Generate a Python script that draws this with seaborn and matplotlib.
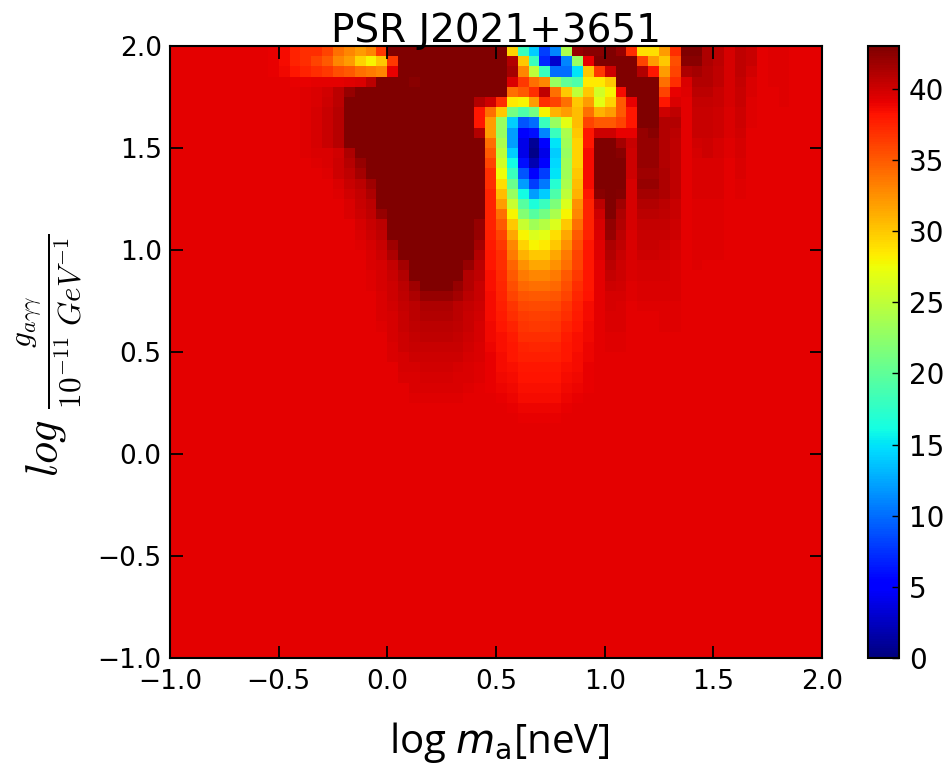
import numpy as np
import pandas as pd
import matplotlib
matplotlib.use("Agg")
import matplotlib.pyplot as plt
import seaborn as sns

# Chart values: each row maps a first column to the cell values read from there on
background = 39.2
n_cells = 60

row_00 = {9: [39, 38.5, 37.5, 37, 37, 36, 34, 33, 32, 33, 36.5], 20: [43] * 11,
          31: [29.5, 18, 14, 8, 11, 24, 42, 42.5, 42.5, 43, 42, 37, 29, 29, 32, 37, 43, 43],
          49: [41.3, 40.7, 39.8, 40.5, 40.2, 39.2, 39.4, 39.4]}
row_01 = {9: [39, 38.5, 37.5, 37, 36, 35, 33, 32, 29.5, 28, 30, 36.5], 21: [43] * 10,
          31: [41, 30, 18, 7, 3, 11, 23, 39, 43, 43, 43, 43, 36, 32, 30, 35.5, 42.5, 42.5],
          49: [41.3, 40.7, 39.8, 40.5, 40.2, 39.2, 39.4, 39.4]}
row_02 = {9: [39, 38.7, 38, 37.5, 37, 36.5, 35.5, 35, 34, 33.5, 33, 39], 21: [43] * 10,
          31: [41.5, 33, 25, 18, 10, 10, 15, 30, 36.5, 40, 43, 43, 41, 38, 32, 36, 41.3, 41.5],
          49: [41, 40.6, 39.8, 40.5, 39.9, 39.2, 39.4, 39.4]}
row_03 = {9: [39.2, 39.2, 39.1, 39.1, 39.2, 39.2, 39.2, 39.4, 39.6, 40.8], 19: [43, 43, 43, 42.5] + [43] * 8,
          31: [39.5, 36.5, 34, 33, 23, 20, 19, 28.5, 28.5, 30, 43, 43, 43, 43, 34, 37, 39.6, 41.1],
          49: [41, 40.5, 39.8, 40.4, 39.5, 39.2, 39.4, 39.4]}
row_04 = {12: [39.4, 39.6, 39.9, 40.7, 42], 17: [43] * 14,
          31: [34, 35, 37, 40.5, 34, 30, 25, 30, 26, 28, 38.5, 43, 43, 43, 36, 39, 39.4, 40.8],
          49: [40.7, 40.3, 39.7, 40.3, 39.5, 39.2, 39.3, 39.4]}
row_05 = {12: [39.4, 39.6, 40, 40.7], 16: [43] * 12,
          28: [41, 40, 37, 28.5, 28, 32, 37, 36, 34, 30, 32, 27, 29.5, 35, 39, 43, 43, 38, 39.5, 39.3, 40.4],
          49: [40.4, 40.2, 39.7, 40.2, 39.4, 39.2, 39.3, 39.4]}
row_06 = {12: [39.4, 39.7, 40.2, 40.9], 16: [43] * 12,
          28: [38, 34, 30, 21, 19, 21, 28, 31, 32, 30.5, 34, 31, 32, 35, 38, 43, 43, 40, 40.5, 39.3, 40.2],
          49: [40.2, 40.1, 39.6, 40, 39.4]}
row_07 = {12: [39.4, 39.7, 40.2, 40.9], 16: [43] * 12,
          28: [38, 32, 23, 14, 9, 10, 18, 23, 27, 30.5, 36, 35, 35, 36, 38, 43, 43, 41, 41, 39.3, 40.2],
          49: [40.2, 40.1, 39.6, 40, 39.4]}
row_08 = {12: [39.4, 39.7, 40.2, 40.9], 16: [43] * 12,
          28: [41, 32, 23, 12, 5, 6, 11, 18, 24, 30, 38, 40, 40, 39, 39, 42, 42.5, 41, 40.7, 39.3, 40.2],
          49: [40.2, 40.1, 39.5, 39.9, 39.3]}
row_09 = {12: [39.4, 39.7, 40.2, 40.9], 16: [43] * 12,
          28: [43, 34, 24, 12, 4, 1, 5.5, 15, 23.5, 29.5, 38, 43, 43, 41.5, 40.2, 42, 42, 41, 40.5, 39.3, 39.9],
          49: [40, 39.8, 39.4, 39.8]}
row_10 = {12: [39.4, 39.5, 39.5, 39.9, 41.3], 17: [43] * 12,
          29: [35, 25, 14, 4, 0.5, 4, 14, 23, 29.5, 38.5, 43, 43, 42.5, 40, 42, 42, 41, 40.5, 39.3, 39.8],
          49: [40, 39.8, 39.4, 39.8]}
row_11 = {13: [39.4, 39.5, 40.1, 40.9, 42], 18: [43] * 11,
          29: [36, 26, 16, 6, 2, 5, 14.5, 23.5, 29.5, 38.5, 43, 43, 43, 40, 42, 42, 41, 40.5, 39.3, 39.6],
          49: [39.6, 39.6, 39.3, 39.5]}
row_12 = {14: [39.4, 40, 40.6, 41.5], 18: [43] * 11,
          29: [37, 27.5, 18, 9, 5, 8, 15, 23.5, 30, 38.5, 43, 43, 43, 40, 41.8, 41.8, 41.2, 40.5, 39.3, 39.6],
          49: [39.6, 39.6, 39.3, 39.5]}
row_13 = {14: [39.3, 39.6, 40.2, 40.7, 41.8], 19: [43] * 10,
          29: [37, 29, 20.5, 12, 8, 10.5, 17, 24, 30.5, 38.5, 43, 43, 43, 39.8, 42, 42, 41.3, 40.5, 39.3, 39.6],
          49: [39.6, 39.6, 39.3, 39.4]}
row_14 = {14: [39.3, 39.4, 39.9, 40.4, 41.2], 19: [43] * 10,
          29: [37.5, 30.5, 23, 16, 12, 14, 19, 25, 31, 38, 42.5, 43, 42.8, 39.8, 41.5, 41.5, 41.3, 40.5, 39.3, 39.6],
          49: [39.6, 39.6, 39.3, 39.4]}
row_15 = {15: [39.3, 39.6, 40.2, 40.8], 19: [43] * 10,
          29: [37.5, 32, 25.5, 19.5, 16.5, 18, 21.5, 26.5, 32.5, 37.5, 40.8, 43, 41.8, 39.8, 41, 41, 40.8, 40.3, 39.3, 39.4],
          49: [39.4, 39.4, 39.2, 39.3]}
row_16 = {16: [39.5, 40, 40.5, 42], 20: [43] * 9,
          29: [37.5, 34, 28, 22, 19.5, 21, 24, 28, 33, 37.5, 40, 43, 41.3, 39.7, 40.7, 40.7, 40.6, 40.2, 39.3, 39.4],
          49: [39.4, 39.4]}
row_17 = {16: [39.3, 39.7, 40.2, 40.8], 20: [43] * 8 + [42],
          29: [37.6, 35, 30, 25.5, 23.5, 24.5, 26.5, 30, 34, 37.5, 39.7, 42.3, 41, 39.7, 40.4, 40.4, 40.4, 40.1, 39.3, 39.4],
          49: [39.4, 39.4]}
row_18 = {16: [39.3, 39.5, 40, 40.5], 20: [43] * 8 + [42],
          29: [37.7, 36, 31.5, 28, 26.5, 27, 29, 31.5, 35, 37.5, 39.5, 42, 40.8, 39.6, 40.3, 40.3, 40.2, 40, 39.3, 39.4],
          49: [39.4, 39.4]}
row_19 = {17: [39.4, 39.7, 40.2, 41.8], 21: [43] * 7 + [41.5],
          29: [37.8, 36.5, 33, 29.5, 28, 28.5, 30, 32.5, 35.5, 38, 39.4, 41.3, 40.5, 39.6, 40.2, 40.2, 40, 39.8, 39.3, 39.4],
          49: [39.4, 39.4]}
row_20 = {17: [39.3, 39.6, 40, 41.3], 21: [43] * 7 + [41],
          29: [38, 37, 33.5, 31, 30, 30, 31.5, 33.5, 36, 38, 39.4, 41, 40.3, 39.6, 40, 40, 39.9, 39.7, 39.3, 39.4],
          49: [39.4, 39.4]}
row_21 = {18: [39.5, 39.8, 40.4, 41.5], 22: [43] * 5 + [42, 40.8],
          29: [38.1, 37, 34.5, 32.5, 31.5, 31.5, 32.5, 34, 36, 38, 39.3, 40.8, 40.1, 39.5, 39.8, 39.8, 39.7, 39.6, 39.3, 39.4],
          49: [39.3, 39.3]}
row_22 = {18: [39.4, 39.8, 40.3, 41], 22: [43] * 5 + [41, 40.5],
          29: [38.3, 37.2, 35, 33.5, 33, 33, 33.5, 35, 36.5, 38, 39.3, 40.4, 40, 39.5, 39.7, 39.7, 39.7, 39.5, 39.3, 39.3],
          49: [39.3, 39.3]}
row_23 = {18: [39.4, 39.7, 40.1, 40.7, 41.8, 43, 43, 43, 42, 41, 40.3],
          29: [38.4, 37.4, 35.5, 34.3, 34, 34, 34.3, 35.5, 37, 38, 39.3, 40, 39.9, 39.4, 39.6, 39.6, 39.6, 39.5, 39.3, 39.3],
          49: [39.3, 39.3]}
row_24 = {19: [39.6, 40, 40.5, 41.2, 42, 42, 42, 41.5, 40.8, 40.2],
          29: [38.5, 37.5, 36, 35.2, 35, 35, 35.2, 36, 37.4, 38.2, 39.2, 39.8, 39.7, 39.4, 39.5, 39.5, 39.5, 39.5, 39.2, 39.3]}
row_25 = {19: [39.6, 39.9, 40.4, 40.8, 41.3, 41.3, 41.3, 40.8, 40.4, 40],
          29: [38.5, 37.7, 36.7, 35.9, 35.7, 35.7, 35.9, 36.7, 37.7, 38.5, 39.2, 39.7, 39.6, 39.3, 39.4, 39.4, 39.4, 39.4]}
row_26 = {19: [39.5, 39.8, 40.3, 40.7, 41, 41, 41, 40.7, 40.3, 39.9],
          29: [38.6, 37.9, 37.1, 36.3, 36.2, 36.2, 36.3, 37.1, 37.9, 38.6, 39.2, 39.5, 39.5, 39.3, 39.3, 39.3, 39.4, 39.4]}
row_27 = {19: [39.4, 39.8, 40.2, 40.6, 40.8, 40.8, 40.8, 40.5, 40.2, 39.8],
          29: [38.8, 38.1, 37.5, 36.7, 36.6, 36.6, 36.7, 37.5, 38.1, 38.7, 39.2, 39.5, 39.5, 39.3, 39.3, 39.3, 39.4, 39.4]}
row_28 = {20: [39.7, 40.1, 40.4, 40.6, 40.6, 40.6, 40.4, 40, 39.7],
          29: [38.8, 38.3, 37.9, 37.1, 37, 37, 37.1, 37.9, 38.3, 38.8, 39.2, 39.4, 39.4, 39.2, 39.2, 39.3, 39.3]}
row_29 = {20: [39.6, 40, 40.2, 40.3, 40.3, 40.3, 40.2, 39.9, 39.6],
          29: [38.9, 38.4, 38, 37.5, 37.4, 37.4, 37.5, 38, 38.4, 38.9, 39.2, 39.4, 39.4, 39.2, 39.2, 39.3, 39.3]}
row_30 = {20: [39.5, 39.8, 40, 40.1, 40.1, 40.1, 40, 39.7, 39.5],
          29: [39, 38.5, 38.1, 37.7, 37.7, 37.7, 37.7, 38.1, 38.5, 38.9, 39.2, 39.3, 39.3]}
row_31 = {21: [39.7, 39.8, 39.9, 39.9, 39.9, 39.8, 39.6, 39.4],
          29: [39, 38.6, 38.4, 38, 38, 38, 38, 38.4, 38.6, 39, 39.2, 39.3, 39.3]}
row_32 = {21: [39.5, 39.6, 39.7, 39.7, 39.7, 39.6, 39.5, 39.4],
          29: [39, 38.7, 38.5, 38.2, 38.2, 38.2, 38.2, 38.5, 38.7, 39, 39.2, 39.3, 39.3]}
row_33 = {22: [39.5, 39.5, 39.5, 39.5, 39.5, 39.4, 39.3],
          29: [39.1, 38.9, 38.7, 38.4, 38.4, 38.4, 38.4, 38.7, 38.9, 39.1]}
row_34 = {22: [39.4, 39.4, 39.4, 39.4, 39.4, 39.3],
          30: [39.1, 38.9, 38.6, 38.6, 38.6, 38.6, 38.9, 39.1]}
row_35 = {23: [39.3, 39.3, 39.3],
          31: [39.1, 38.9, 38.9, 38.9, 38.9, 39.1]}
row_36 = {32: [39.1, 39.1, 39.1, 39.1]}

rows = [row_00, row_01, row_02, row_03, row_04, row_05, row_06, row_07, row_08, row_09,
        row_10, row_11, row_12, row_13, row_14, row_15, row_16, row_17, row_18, row_19,
        row_20, row_21, row_22, row_23, row_24, row_25, row_26, row_27, row_28, row_29,
        row_30, row_31, row_32, row_33, row_34, row_35, row_36]

axis_ticks = [-1.0, -0.5, 0.0, 0.5, 1.0, 1.5, 2.0]
cbar_ticks = [0, 5, 10, 15, 20, 25, 30, 35, 40]

# Fill the grid, first row is the top of the picture
grid = np.full((n_cells, n_cells), background)
for r, row in enumerate(rows):
    for start, vals in row.items():
        grid[r, start:start + len(vals)] = vals
df = pd.DataFrame(grid)

W, H = 948, 765
fig = plt.figure(figsize=(W / 100, H / 100), dpi=100)
ax = fig.add_axes([170 / W, 1 - 658 / H, 652 / W, 612 / H])
cax = fig.add_axes([868 / W, 1 - 658 / H, 31 / W, 612 / H])

sns.heatmap(df, ax=ax, cbar_ax=cax, cmap="jet", vmin=0, vmax=43,
            xticklabels=False, yticklabels=False, cbar_kws={"ticks": cbar_ticks})

labels = [f"{t:.1f}".replace("-", "\u2212") for t in axis_ticks]
ax.set_xticks([(t + 1) * 20 for t in axis_ticks], labels, rotation=0)
ax.set_yticks([(2 - t) * 20 for t in axis_ticks], labels, rotation=0)
ax.tick_params(direction="in", top=True, right=True, length=9, width=1.3, labelsize=19, pad=6)
ax.tick_params(axis="x", pad=8)
for side in ax.spines:
    ax.spines[side].set_visible(True)
    ax.spines[side].set_linewidth(1.5)
    ax.spines[side].set_color("black")

ax.set_title("PSR J2021+3651", fontsize=28, pad=3)
ax.set_xlabel(r"log $m_{\mathrm{a}}$[neV]", fontsize=29, family="Open Sans",
              math_fontfamily="custom", labelpad=18, x=0.505)
ax.set_ylabel(r"$log\ \frac{g_{a\gamma\gamma}}{10^{-11}\ GeV^{-1}}$", fontsize=32,
              math_fontfamily="cm", labelpad=10, y=0.495)

cbar = ax.collections[0].colorbar
cbar.ax.tick_params(direction="in", length=5, width=1, labelsize=20, pad=7)
cbar.outline.set_visible(True)
cbar.outline.set_linewidth(1.5)
cbar.outline.set_edgecolor("black")

fig.savefig("out.png", dpi=100)
